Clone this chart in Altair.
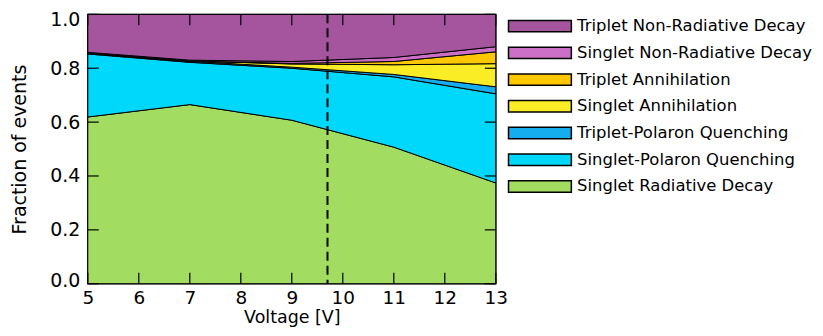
import altair as alt
import pandas as pd

voltage = [5, 7, 9, 11, 13]
series_names = [
    "Triplet Non-Radiative Decay",
    "Singlet Non-Radiative Decay",
    "Triplet Annihilation",
    "Singlet Annihilation",
    "Triplet-Polaron Quenching",
    "Singlet-Polaron Quenching",
    "Singlet Radiative Decay",
]
colors = ["#A4559E", "#CC6FC6", "#FFC700", "#FAED25", "#16ADEF", "#00D8FB", "#A2DD62"]

# fractions per series (stack bottom -> top)
singlet_radiative = [0.619, 0.665, 0.607, 0.507, 0.374]
singlet_polaron = [0.234, 0.157, 0.193, 0.261, 0.331]
triplet_polaron = [0.003, 0.004, 0.004, 0.009, 0.026]
singlet_annihilation = [0.000, 0.001, 0.012, 0.036, 0.086]
triplet_annihilation = [0.000, 0.000, 0.002, 0.012, 0.044]
singlet_nonrad = [0.003, 0.003, 0.007, 0.015, 0.019]
triplet_nonrad = [0.141, 0.170, 0.175, 0.160, 0.120]

x_ticks = [5, 6, 7, 8, 9, 10, 11, 12, 13]
y_ticks = [0.0, 0.2, 0.4, 0.6, 0.8, 1.0]
marker_voltage = [9.7]

stack_bottom_up = [
    ("Singlet Radiative Decay", singlet_radiative),
    ("Singlet-Polaron Quenching", singlet_polaron),
    ("Triplet-Polaron Quenching", triplet_polaron),
    ("Singlet Annihilation", singlet_annihilation),
    ("Triplet Annihilation", triplet_annihilation),
    ("Singlet Non-Radiative Decay", singlet_nonrad),
    ("Triplet Non-Radiative Decay", triplet_nonrad),
]
rows = []
cum = [0.0] * len(voltage)
for name, vals in stack_bottom_up:
    for i, v in enumerate(voltage):
        lo = cum[i]
        hi = lo + vals[i]
        if name == "Triplet Non-Radiative Decay":
            hi = 1.0
        rows.append({"series": name, "V": v, "lo": lo, "hi": hi})
        cum[i] = hi
df = pd.DataFrame(rows)

W, H = 409, 270
xs = alt.Scale(domain=[5, 13], nice=False, zero=False)
ys = alt.Scale(domain=[0, 1], nice=False)

# wide rectangular legend swatch (scaled by sqrt(symbolSize)/2)
sym = "M-5.25,-0.95L5.25,-0.95L5.25,0.95L-5.25,0.95Z"

areas = alt.Chart(df).mark_area(stroke="black", strokeWidth=1, opacity=1, orient="vertical").encode(
    x=alt.X("V:Q", scale=xs, axis=alt.Axis(values=x_ticks, title="Voltage [V]", format="d",
                                           labelFlush=False, labelPadding=5, labelFontSize=18.5,
                                           titlePadding=1, titleFontSize=17.5)),
    y=alt.Y("lo:Q", scale=ys, stack=None,
            axis=alt.Axis(values=y_ticks, title="Fraction of events", format=".1f",
                          labelOffset={"condition": [{"test": "datum.value >= 1", "value": 5},
                                                     {"test": "datum.value <= 0", "value": -3}],
                                       "value": 0})),
    y2="hi:Q",
    color=alt.Color("series:N", scale=alt.Scale(domain=series_names, range=colors),
                    legend=alt.Legend(title=None, orient="none", legendX=445, legendY=3.5,
                                      symbolType=sym, symbolSize=144,
                                      symbolStrokeColor="black", symbolStrokeWidth=1.5,
                                      symbolOpacity=1,
                                      labelFontSize=16.5, labelFont="DejaVu Sans",
                                      labelColor="black", labelOffset=29, labelLimit=400,
                                      rowPadding=8.8)),
)

xt = pd.DataFrame({"t": x_ticks})
yt = pd.DataFrame({"t": y_ticks})
tick_style = dict(color="black", strokeWidth=1.2)
bottom_ticks = alt.Chart(xt).mark_rule(**tick_style).encode(
    x=alt.X("t:Q", scale=xs), y=alt.value(H), y2=alt.value(H - 11))
top_ticks = alt.Chart(xt).mark_rule(**tick_style).encode(
    x=alt.X("t:Q", scale=xs), y=alt.value(0), y2=alt.value(11))
left_ticks = alt.Chart(yt).mark_rule(**tick_style).encode(
    y=alt.Y("t:Q", scale=ys), x=alt.value(0), x2=alt.value(11))
right_ticks = alt.Chart(yt).mark_rule(**tick_style).encode(
    y=alt.Y("t:Q", scale=ys), x=alt.value(W), x2=alt.value(W - 11))

vline = alt.Chart(pd.DataFrame({"v": marker_voltage})).mark_rule(
    color="black", strokeWidth=2, strokeDash=[9, 5]).encode(x=alt.X("v:Q", scale=xs))

chart = alt.layer(areas, vline, bottom_ticks, top_ticks, left_ticks, right_ticks).properties(
    width=W, height=H,
    autosize=alt.AutoSizeParams(type="none"),
    padding={"left": 80, "top": 6, "right": 320, "bottom": 44},
).configure_view(stroke="black", strokeWidth=1.5).configure_axis(
    grid=False, domain=False, ticks=False, tickSize=0,
    labelFont="DejaVu Sans", labelFontSize=19, labelColor="black", labelPadding=8,
    titleFont="DejaVu Sans", titleFontSize=19, titleColor="black", titleFontWeight="normal",
).configure_axisY(titlePadding=20)

chart.save("out.html", embed_options={"renderer": "svg", "actions": False})
